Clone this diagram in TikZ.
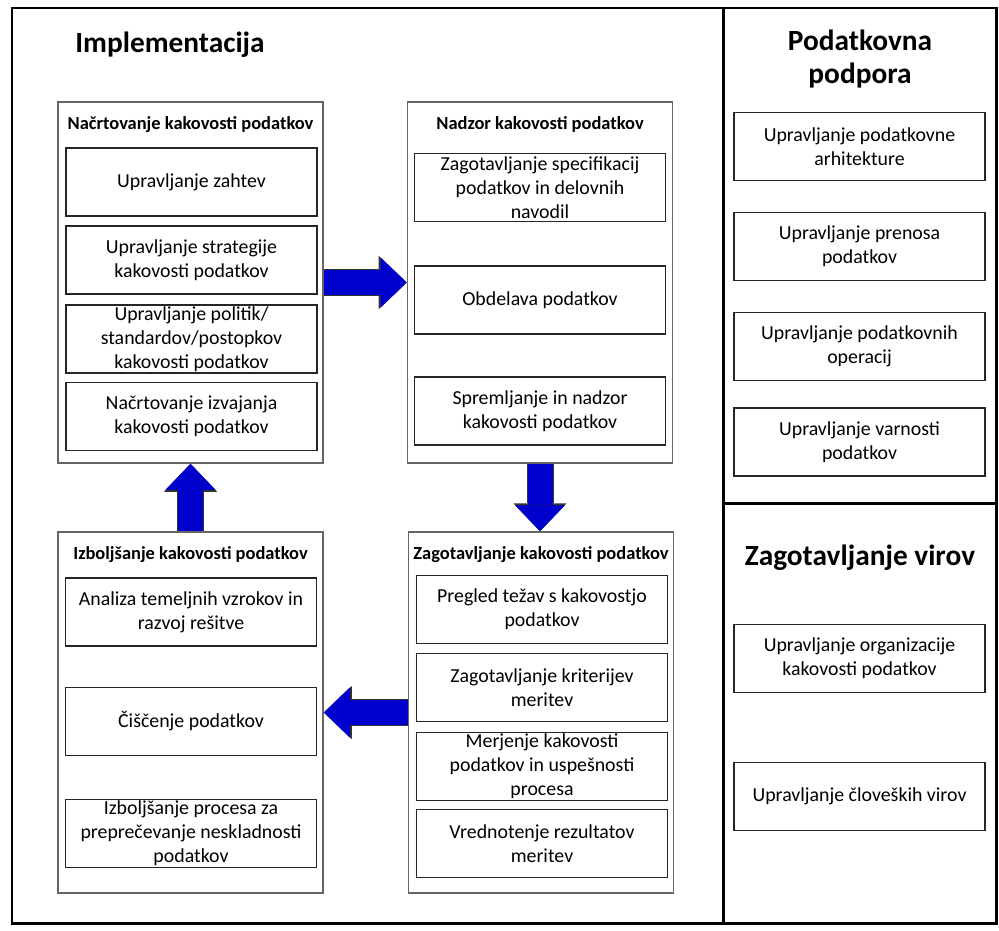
\documentclass[tikz,border=0pt]{standalone}
\usepackage{fontspec}
\setmainfont{Carlito}
\usetikzlibrary{arrows.meta}
\definecolor{arrowblue}{RGB}{0,0,205}
\tikzset{
  frame/.style={line width=1.7pt, black},
  panel/.style={draw=black!60, line width=0.9pt, minimum width=5.3cm, minimum height=7.22cm},
  item/.style={draw=black!85, line width=0.7pt, minimum width=5.02cm, minimum height=1.36cm,
    inner sep=0pt, align=center, font=\fontsize{11.3}{13.6}\selectfont},
  ptitle/.style={inner sep=0pt, font=\bfseries\fontsize{10.5}{12}\selectfont},
  bigtitle/.style={inner sep=0pt, align=center, font=\bfseries\fontsize{16.7}{19.3}\selectfont},
  flow/.style={line width=0.5cm, arrowblue, -{Triangle[width=1cm,length=0.52cm,line width=0pt]},
    preaction={draw=black!80, line width=0.54cm, -{Triangle[width=1.06cm,length=0.56cm,line width=0pt]}}}
}

\begin{document}
\begin{tikzpicture}[x=0.02cm,y=-0.02cm]
\useasboundingbox (0,0) rectangle (999,930);
\draw [frame] (12,8) rectangle (996,923);
\draw [frame] (723,8) -- (723,923);
\draw [frame] (723,503) -- (996,503);

\node [bigtitle, anchor=west] (impl) at (75,45) {Implementacija};
\node [bigtitle] (podpora) at (860,59) {Podatkovna\\podpora};
\node [bigtitle] (viri) at (860,558) {Zagotavljanje virov};

% nacrtovanje
\node [panel] (plan) at (190.5,282.5) {};
\node [ptitle] (plant) at (190.5,125) {Načrtovanje kakovosti podatkov};
\node [item] (p1) at (191.5,182) {Upravljanje zahtev};
\node [item] (p2) at (191.5,260) {Upravljanje strategije\\kakovosti podatkov};
\node [item] (p3) at (191.5,339) {Upravljanje politik/\\standardov/postopkov\\kakovosti podatkov};
\node [item] (p4) at (191.5,416.5) {Načrtovanje izvajanja\\kakovosti podatkov};

% nadzor
\node [panel] (nadzor) at (540,282.5) {};
\node [ptitle] (nadzort) at (540,124) {Nadzor kakovosti podatkov};
\node [item] (n1) at (540,187.5) {Zagotavljanje specifikacij\\podatkov in delovnih\\navodil};
\node [item] (n2) at (540,300) {Obdelava podatkov};
\node [item] (n3) at (540,411) {Spremljanje in nadzor\\kakovosti podatkov};

% zagotavljanje
\node [panel] (zagot) at (541,712.5) {};
\node [ptitle] (zagott) at (541,555) {Zagotavljanje kakovosti podatkov};
\node [item] (z1) at (542,609.5) {Pregled težav s kakovostjo\\podatkov};
\node [item] (z2) at (542,687.5) {Zagotavljanje kriterijev\\meritev};
\node [item] (z3) at (542,766.5) {Merjenje kakovosti\\podatkov in uspešnosti\\procesa};
\node [item] (z4) at (542,843.5) {Vrednotenje rezultatov\\meritev};

% izboljsanje
\node [panel] (izbolj) at (190.5,712.5) {};
\node [ptitle] (izboljt) at (190.5,555) {Izboljšanje kakovosti podatkov};
\node [item] (i1) at (191,612) {Analiza temeljnih vzrokov in\\razvoj rešitve};
\node [item] (i2) at (191,721.5) {Čiščenje podatkov};
\node [item] (i3) at (191,833.5) {Izboljšanje procesa za\\preprečevanje neskladnosti\\podatkov};

% podatkovna podpora
\node [item] (r1) at (859.5,146.5) {Upravljanje podatkovne\\arhitekture};
\node [item] (r2) at (859.5,246.5) {Upravljanje prenosa\\podatkov};
\node [item] (r3) at (859.5,346.5) {Upravljanje podatkovnih\\operacij};
\node [item] (r4) at (859.5,442) {Upravljanje varnosti\\podatkov};

% viri
\node [item] (v1) at (859.5,658.5) {Upravljanje organizacije\\kakovosti podatkov};
\node [item] (v2) at (859.5,796.5) {Upravljanje človeških virov};

\draw [flow] (plan) -- (nadzor);
\draw [flow] (nadzor.south) -- (nadzor.south |- zagot.north);
\draw [flow] (zagot) -- (izbolj);
\draw [flow] (izbolj) -- (plan);
\end{tikzpicture}
\end{document}
